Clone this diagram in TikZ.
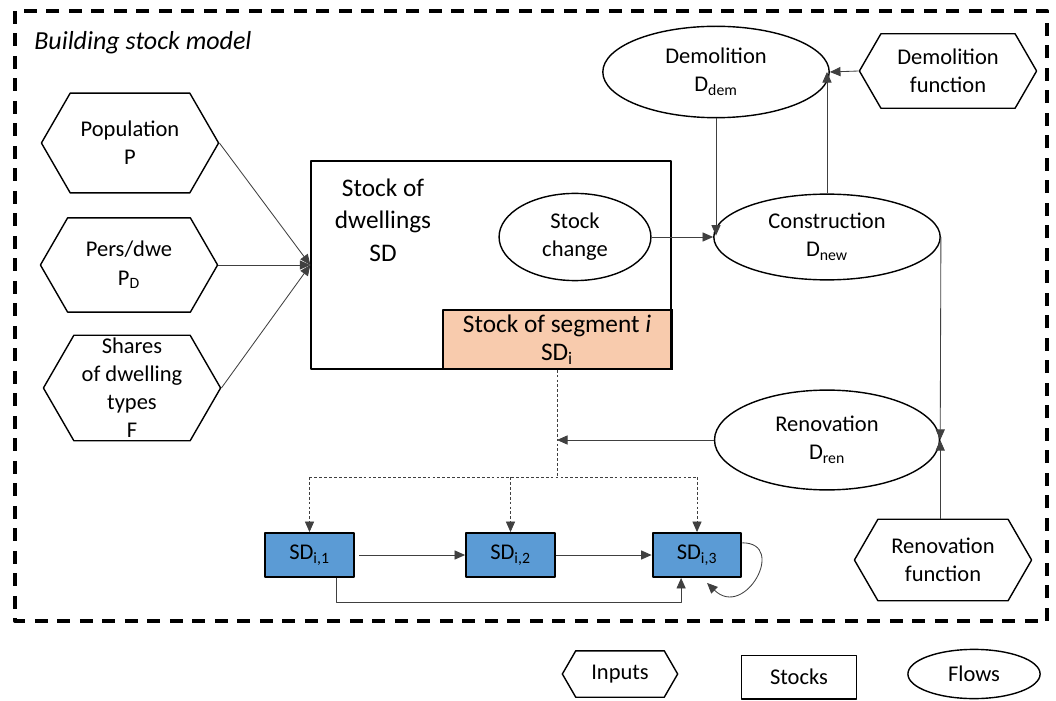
\documentclass[tikz,border=0pt]{standalone}
\usepackage{fontspec}
\setmainfont{Carlito}
\usetikzlibrary{shapes.geometric,shapes.symbols,arrows.meta,calc}
\definecolor{segorange}{HTML}{F8CBAD}
\definecolor{sdblue}{HTML}{5B9BD5}
\begin{document}
\begin{tikzpicture}[x=0.025cm,y=-0.025cm,>={Triangle[length=7.5pt,width=6.5pt]},line join=round,
		font=\fontsize{16}{20}\selectfont,
		inp/.style={draw,line width=1pt,signal,signal to=east and west,signal pointer angle=120,align=center,inner sep=1pt,minimum width=126pt},
		flw/.style={draw,line width=1pt,ellipse,align=center,inner sep=0pt},
		stk/.style={draw,line width=1pt,rectangle,align=center},
		sdbox/.style={draw,line width=1.6pt,fill=sdblue,minimum width=63pt,minimum height=31pt,inner sep=0pt},
		con/.style={draw=black!75,line width=0.6pt}]
	\useasboundingbox (0,0) rectangle (1056,701);
	\draw[line width=2.8pt,dash pattern=on 9pt off 7pt] (15,11) rectangle (1047,621);
	\node[anchor=west,inner sep=0pt,font=\fontsize{18.5}{22}\selectfont\itshape] (title) at (34,43) {Building stock model};
	% inputs
	\node[inp,minimum height=71pt] (pop) at (130,143) {Population\\P};
	\node[inp,minimum height=67pt] (pers) at (129,265) {Pers/dwe\\P\textsubscript{D}};
	\node[inp,minimum height=75pt,inner sep=0pt] (shr) at (132,388) {Shares\\of dwelling\\types\\F};
	% stocks
	\node[stk,minimum width=256pt,minimum height=148pt] (stock) at (491,265) {};
	\node[font=\fontsize{18}{23}\selectfont,align=center] (stocktxt) at (383,220) {Stock of\\dwellings\\SD};
	\node[stk,fill=segorange,minimum width=162pt,minimum height=42pt,inner sep=0pt,font=\fontsize{18}{20}\selectfont] (seg) at (557,339.5) {Stock of segment \textit{i}\\SD\textsubscript{i}};
	\draw[line width=2pt] (seg.north east) -- (seg.south east);
	% flows
	\node[flw,minimum width=108pt,minimum height=62pt] (chg) at (575,237) {Stock\\change};
	\node[flw,minimum width=161pt,minimum height=65pt] (dem) at (716,72) {Demolition\\D\textsubscript{dem}};
	\node[inp,minimum height=53pt] (demf) at (948,71) {Demolition\\function};
	\node[flw,minimum width=161pt,minimum height=61pt] (cons) at (827,237) {Construction\\D\textsubscript{new}};
	\node[flw,minimum width=160pt,minimum height=71pt] (ren) at (827,440) {Renovation\\D\textsubscript{ren}};
	\node[inp,minimum height=58pt] (renf) at (943,560) {Renovation\\function};
	% segment stocks
	\foreach \n/\x in {1/309.5,2/510.5,3/697}
		\node[sdbox] (sd\n) at (\x,555) {SD\textsubscript{i,\n}};
	% connectors
	\foreach \a in {pop,pers,shr}
		\draw[con,->] (\a.east) -- (stock.west);
	\draw[con,->] (chg.east) -- (cons.west);
	\draw[con,->,shorten >=1pt] (dem.south) -- (dem.south |- cons.west);
	\draw[con,->] (cons.north) -- (cons.north |- dem.east);
	\draw[con,->] (demf.west) -- (dem.east);
	\draw[con,->] (cons.east) -- (ren.east);
	\draw[con,->] (ren.east |- renf.north) -- (ren.east);
	\coordinate (split) at (seg.south |- 0,477);
	\draw[con,->] (ren.west) -- (split |- ren.west);
	\draw[con,dash pattern=on 2pt off 1.5pt] (seg.south) -- (split) (sd1.north |- split) -- (sd3.north |- split);
	\foreach \n in {1,2,3}
		\draw[con,dash pattern=on 2pt off 1.5pt,->] (sd\n.north |- split) -- (sd\n.north);
	\draw[con,->,shorten <=3pt] (sd1.east) -- (sd2.west);
	\draw[con,->] (sd2.east) -- (sd3.west);
	\draw[con,->] ($(sd1.south)!0.6!(sd1.south east)$) -- ++(0,24) -| ($(sd3.south)!0.35!(sd3.south west)$);
	\draw[con,->] (sd3.15) .. controls +(45,0) and +(38,37) .. ($(sd3.south)+(10,5)$);
	% legend
	\node[inp,minimum width=82pt,minimum height=33pt] (lin) at (620,674) {Inputs};
	\node[stk,minimum width=82pt,minimum height=31pt] (lst) at (799,677) {Stocks};
	\node[flw,minimum width=94pt,minimum height=35pt] (lfl) at (974,674) {Flows};
\end{tikzpicture}
\end{document}
